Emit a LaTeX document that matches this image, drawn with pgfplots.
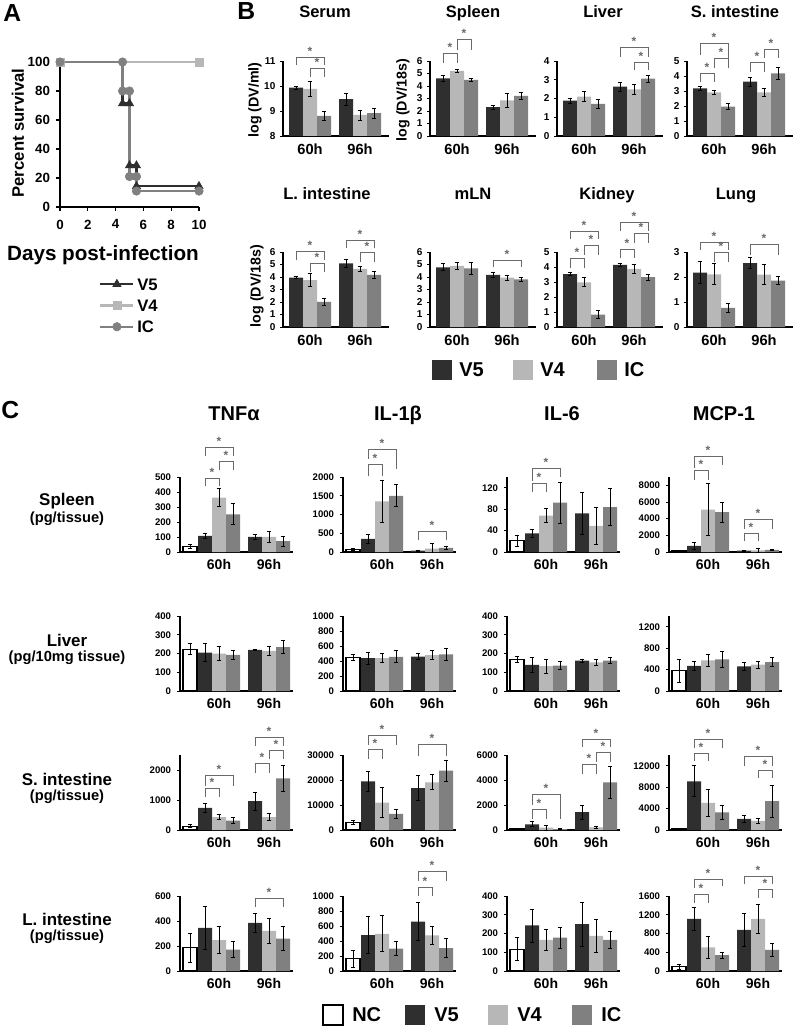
\documentclass[border=0pt]{standalone}
\usepackage{pgfplots}
\pgfplotsset{compat=1.18}
\usepackage{fontspec}
\setmainfont{Liberation Sans}
\newcommand{\fs}[1]{\fontsize{#1}{#1}\selectfont\bfseries}
\def\u{0.75pt}
\definecolor{cVfive}{HTML}{2F2F2F}
\definecolor{cVfour}{HTML}{B7B7B7}
\definecolor{cIC}{HTML}{808080}
\definecolor{cBrk}{HTML}{6A6A6A}
\pgfplotsset{
  errb/.style={error bars/.cd, y dir=both, y explicit,
     error bar style={black, line width=0.6pt},
     error mark options={black, line width=0.6pt, mark size=1.8pt, rotate=90}},
  bv5/.style={ybar, bar width=14, bar shift=0pt, fill=cVfive, draw=none, errb},
  bv4/.style={ybar, bar width=14, bar shift=0pt, fill=cVfour, draw=none, errb},
  bic/.style={ybar, bar width=14, bar shift=0pt, fill=cIC, draw=none, errb},
  bnc/.style={ybar, bar width=14, bar shift=0pt, fill=white, draw=black, line width=0.8pt, errb},
  common/.style={scale only axis, anchor=south west, axis lines*=left,
     axis line style={-, black, line width=0.8pt},
     tick align=outside, major tick length=2.2pt,
     tick style={black, line width=0.6pt}, major x tick style={draw=none},
     /pgf/number format/assume math mode=true,
     /pgf/number format/1000 sep={}, scaled y ticks=false,
     clip mode=individual, enlargelimits=false},
  bB/.style={common, width=79.5pt, height=56.25pt, xmin=0, xmax=106,
     xtick={27,77}, xticklabels={60h,96h},
     xticklabel style={font=\fs{11}},
     yticklabel style={font=\fs{7.5}}},
  cC/.style={common, width=84.75pt, height=56.25pt, xmin=0, xmax=113,
     xtick={39,89}, xticklabels={60h,96h},
     xticklabel style={font=\fs{10.5}},
     yticklabel style={font=\fs{7.2}, xshift=-1pt}},
}
\newcommand{\brk}[5]{%
  \draw[cBrk, line width=0.7pt]
   ([yshift=#4*\u]axis cs:#1,\ym) -- ([yshift=#3*\u]axis cs:#1,\ym)
   -- node[above, inner sep=0.6pt, font=\fs{9}, text=cBrk]{*} ([yshift=#3*\u]axis cs:#2,\ym)
   -- ([yshift=#5*\u]axis cs:#2,\ym);}
\begin{document}
\begin{tikzpicture}
\useasboundingbox (0,0) rectangle (595.5pt,-770.25pt);
% ---------------- texts ----------------
\begin{scope}[x=\u,y=-\u]
\node[anchor=base west, inner sep=0pt, font=\fs{18.5}] at (3,21.5) {A};
\node[anchor=base west, inner sep=0pt, font=\fs{18.5}] at (237,20) {B};
\node[anchor=base west, inner sep=0pt, font=\fs{18.5}] at (1,418) {C};
\node[rotate=90, font=\fs{12.5}] at (18,133) {Percent survival};
\node[anchor=base, font=\fs{15.5}] at (103,260) {Days post-infection};
% B titles
\foreach \t/\x in {Serum/325, Spleen/473, Liver/603, S. intestine/735}{\node[anchor=base, font=\fs{12.4}] at (\x,18) {\t};}
\foreach \t/\x in {L. intestine/327, mLN/473, Kidney/607, Lung/736}{\node[anchor=base, font=\fs{12.4}] at (\x,199) {\t};}
\node[rotate=90, font=\fs{10.7}] at (255,100) {log (DV/ml)};
\node[rotate=90, font=\fs{10.7}] at (403,100) {log (DV/18s)};
\node[rotate=90, font=\fs{10.7}] at (257,286) {log (DV/18s)};
% B legend
\fill[cVfive] (432,360) rectangle (452,380);
\fill[cVfour] (513,360) rectangle (533,380);
\fill[cIC] (597,360) rectangle (617,380);
\node[anchor=west, inner sep=0pt, font=\fs{15}] at (459,370) {V5};
\node[anchor=west, inner sep=0pt, font=\fs{15}] at (540,370) {V4};
\node[anchor=west, inner sep=0pt, font=\fs{15}] at (624,370) {IC};
% C titles
\node[anchor=base, font=\fs{15}] at (234,420) {TNFα};
\node[anchor=base, font=\fs{15}] at (398,420) {IL-1β};
\node[anchor=base, font=\fs{15}] at (562,420) {IL-6};
\node[anchor=base, font=\fs{15}] at (724,420) {MCP-1};
% C row labels
\node[anchor=base, font=\fs{12.7}] at (67,505.7) {Spleen};
\node[anchor=base, font=\fs{11}] at (67,522.7) {(pg/tissue)};
\node[anchor=base, font=\fs{12.7}] at (67,646) {Liver};
\node[anchor=base, font=\fs{11}] at (67,661) {(pg/10mg tissue)};
\node[anchor=base, font=\fs{12.7}] at (67,785) {S. intestine};
\node[anchor=base, font=\fs{11}] at (67,800) {(pg/tissue)};
\node[anchor=base, font=\fs{12.7}] at (67,925) {L. intestine};
\node[anchor=base, font=\fs{11}] at (67,940) {(pg/tissue)};
% C legend
\draw[black, line width=1pt, fill=white] (323,1005) rectangle (343,1025);
\fill[cVfive] (405,1005) rectangle (425,1025);
\fill[cVfour] (488,1005) rectangle (508,1025);
\fill[cIC] (572,1005) rectangle (592,1025);
\node[anchor=west, inner sep=0pt, font=\fs{15}] at (352,1015) {NC};
\node[anchor=west, inner sep=0pt, font=\fs{15}] at (434,1015) {V5};
\node[anchor=west, inner sep=0pt, font=\fs{15}] at (517,1015) {V4};
\node[anchor=west, inner sep=0pt, font=\fs{15}] at (601,1015) {IC};
\end{scope}
% ---------------- Panel A ----------------
\begin{axis}[scale only axis, anchor=south west, at={({60*\u},{-207*\u})},
  width=104.25pt, height=108.75pt, xmin=0, xmax=10, ymin=0, ymax=100,
  axis lines*=left, axis line style={-, black, line width=0.9pt},
  xtick={0,2,4,6,8,10}, ytick={0,20,40,60,80,100},
  tick align=outside, major tick length=3pt, tick style={black, line width=0.8pt},
  ticklabel style={font=\fs{10}},
  xticklabel style={yshift=-3pt}, yticklabel style={xshift=-1pt},
  /pgf/number format/assume math mode=true,
  clip=false,
  legend style={at={(0.28,-0.47)}, anchor=north west, draw=none, fill=none,
     font=\fs{12.5}, inner sep=0pt, row sep=3pt,
     nodes={inner sep=2pt, text height=9pt, text depth=0pt}},
  legend cell align=left,
  legend image code/.code={\draw[#1, mark indices={2}] plot coordinates {(0pt,0pt) (12.4pt,0pt) (24.8pt,0pt)};},
]
\addplot[cVfive, line width=1.8pt, mark=triangle*, mark size=3.6pt, mark options={solid, line width=0.4pt}, mark indices={3,4,5,6,7,8}] coordinates {(0,100) (4.5,100) (4.5,71.4) (5,71.4) (5,28.6) (5.5,28.6) (5.5,14.3) (10,14.3)};
\addlegendentry{V5}
\addplot[cVfour, line width=1.8pt, mark=square*, mark size=3pt, mark options={solid, line width=0.4pt}] coordinates {(0,100) (10,100)};
\addlegendentry{V4}
\addplot[cIC, line width=1.8pt, mark=*, mark size=3.2pt, mark options={solid, line width=0.4pt}] coordinates {(0,100) (4.5,100) (4.5,80) (5,80) (5,21) (5.5,21) (5.5,11) (10,11)};
\addlegendentry{IC}
\end{axis}
% ---------------- Panel B row 1 ----------------
\def\ym{11}
\begin{axis}[bB, at={({283*\u},{-136*\u})}, ymin=8, ymax=11, ytick={8,9,10,11}]
\addplot[bv5] coordinates {(13,9.93) +- (0,0.05) (63,9.47) +- (0,0.25)};
\addplot[bv4] coordinates {(27,9.88) +- (0,0.3) (77,8.84) +- (0,0.2)};
\addplot[bic] coordinates {(41,8.80) +- (0,0.18) (91,8.91) +- (0,0.2)};
\brk{13}{41}{4}{-4}{-4}
\brk{27}{41}{-7}{-16}{-16}
\end{axis}
\def\ym{6}
\begin{axis}[bB, at={({430*\u},{-136*\u})}, ymin=0, ymax=6, ytick={0,1,...,6}]
\addplot[bv5] coordinates {(13,4.6) +- (0,0.25) (63,2.3) +- (0,0.15)};
\addplot[bv4] coordinates {(27,5.2) +- (0,0.15) (77,2.85) +- (0,0.55)};
\addplot[bic] coordinates {(41,4.48) +- (0,0.1) (91,3.2) +- (0,0.3)};
\brk{13}{27}{8}{-2}{-2}
\brk{27}{41}{22}{11}{11}
\end{axis}
\def\ym{4}
\begin{axis}[bB, at={({557*\u},{-136*\u})}, ymin=0, ymax=4, ytick={0,1,...,4}]
\addplot[bv5] coordinates {(13,1.88) +- (0,0.13) (63,2.63) +- (0,0.25)};
\addplot[bv4] coordinates {(27,2.1) +- (0,0.28) (77,2.48) +- (0,0.25)};
\addplot[bic] coordinates {(41,1.71) +- (0,0.22) (91,3.06) +- (0,0.18)};
\brk{63}{91}{14}{4}{4}
\brk{77}{91}{-1}{-9}{-9}
\end{axis}
\def\ym{5}
\begin{axis}[bB, at={({687*\u},{-136*\u})}, ymin=0, ymax=5, ytick={0,1,...,5}]
\addplot[bv5] coordinates {(13,3.18) +- (0,0.15) (63,3.62) +- (0,0.3)};
\addplot[bv4] coordinates {(27,2.91) +- (0,0.15) (77,2.91) +- (0,0.28)};
\addplot[bic] coordinates {(41,1.96) +- (0,0.18) (91,4.18) +- (0,0.38)};
\brk{13}{41}{18}{6}{-7}
\brk{27}{41}{3}{-7}{-7}
\brk{13}{27}{-12}{-21}{-21}
\brk{63}{77}{-1}{-11}{-11}
\brk{77}{91}{12}{3}{3}
\end{axis}
% ---------------- Panel B row 2 ----------------
\def\ym{6}
\begin{axis}[bB, at={({283*\u},{-327*\u})}, ymin=0, ymax=6, ytick={0,1,...,6}]
\addplot[bv5] coordinates {(13,3.95) +- (0,0.1) (63,5.1) +- (0,0.3)};
\addplot[bv4] coordinates {(27,3.76) +- (0,0.5) (77,4.65) +- (0,0.18)};
\addplot[bic] coordinates {(41,2.02) +- (0,0.3) (91,4.17) +- (0,0.25)};
\brk{13}{41}{1}{-8}{-8}
\brk{27}{41}{-11}{-20}{-20}
\brk{63}{91}{12}{4}{4}
\brk{77}{91}{0}{-10}{-10}
\end{axis}
\def\ym{6}
\begin{axis}[bB, at={({430*\u},{-327*\u})}, ymin=0, ymax=6, ytick={0,1,...,6}]
\addplot[bv5] coordinates {(13,4.78) +- (0,0.28) (63,4.17) +- (0,0.17)};
\addplot[bv4] coordinates {(27,4.89) +- (0,0.3) (77,3.95) +- (0,0.2)};
\addplot[bic] coordinates {(41,4.7) +- (0,0.5) (91,3.82) +- (0,0.17)};
\brk{63}{91}{-8}{-15}{-15}
\end{axis}
\def\ym{5}
\begin{axis}[bB, at={({557*\u},{-327*\u})}, ymin=0, ymax=5, ytick={0,1,...,5}]
\addplot[bv5] coordinates {(13,3.52) +- (0,0.1) (63,4.15) +- (0,0.08)};
\addplot[bv4] coordinates {(27,2.98) +- (0,0.3) (77,3.88) +- (0,0.3)};
\addplot[bic] coordinates {(41,0.83) +- (0,0.28) (91,3.32) +- (0,0.2)};
\brk{13}{41}{21}{13}{13}
\brk{27}{41}{7}{-3}{-3}
\brk{13}{27}{-6}{-16}{-16}
\brk{63}{91}{30}{21}{21}
\brk{77}{91}{19}{9}{9}
\brk{63}{77}{3}{-6}{-6}
\end{axis}
\def\ym{3}
\begin{axis}[bB, at={({687*\u},{-327*\u})}, ymin=0, ymax=3, ytick={0,1,2,3}]
\addplot[bv5] coordinates {(13,2.18) +- (0,0.45) (63,2.56) +- (0,0.22)};
\addplot[bv4] coordinates {(27,2.11) +- (0,0.42) (77,2.1) +- (0,0.4)};
\addplot[bic] coordinates {(41,0.77) +- (0,0.18) (91,1.86) +- (0,0.16)};
\brk{13}{41}{10}{2}{2}
\brk{27}{41}{0}{-10}{-10}
\brk{63}{91}{8}{-3}{-3}
\end{axis}
% ---------------- Panel C row 1: Spleen ----------------
\def\ym{500}
\begin{axis}[cC, at={({180*\u},{-552*\u})}, ymin=0, ymax=500, ytick={0,100,...,500}]
\addplot[bnc] coordinates {(10,35) +- (0,13)};
\addplot[bv5] coordinates {(25,108) +- (0,15) (75,101) +- (0,15)};
\addplot[bv4] coordinates {(39,363) +- (0,58) (89,101) +- (0,35)};
\addplot[bic] coordinates {(53,251) +- (0,70) (103,72) +- (0,32)};
\brk{25}{39}{-1}{-9}{-9}
\brk{39}{53}{16}{7}{7}
\brk{25}{53}{30}{21}{21}
\end{axis}
\def\ym{2000}
\begin{axis}[cC, at={({343*\u},{-552*\u})}, ymin=0, ymax=2000, ytick={0,500,...,2000}]
\addplot[bnc] coordinates {(10,72) +- (0,20)};
\addplot[bv5] coordinates {(25,350) +- (0,130) (75,40) +- (0,15)};
\addplot[bv4] coordinates {(39,1350) +- (0,560) (89,90) +- (0,150)};
\addplot[bic] coordinates {(53,1500) +- (0,290) (103,110) +- (0,45)};
\brk{25}{53}{28}{18}{8}
\brk{25}{39}{13}{1}{1}
\brk{75}{103}{-54}{-63}{-63}
\end{axis}
\def\ym{140}
\begin{axis}[cC, at={({507*\u},{-552*\u})}, ymin=0, ymax=140, ytick={0,40,80,120}]
\addplot[bnc] coordinates {(10,21) +- (0,10)};
\addplot[bv5] coordinates {(25,35) +- (0,8) (75,72) +- (0,40)};
\addplot[bv4] coordinates {(39,68) +- (0,13) (89,49) +- (0,35)};
\addplot[bic] coordinates {(53,92) +- (0,38) (103,84) +- (0,34)};
\brk{25}{39}{-6}{-15}{-15}
\brk{25}{53}{9}{-4}{0}
\end{axis}
\def\ym{9000}
\begin{axis}[cC, at={({669*\u},{-552*\u})}, ymin=0, ymax=9000, ytick={0,2000,...,8000}]
\addplot[bnc] coordinates {(10,180) +- (0,40)};
\addplot[bv5] coordinates {(25,750) +- (0,400) (75,180) +- (0,50)};
\addplot[bv4] coordinates {(39,5080) +- (0,3100) (89,200) +- (0,250)};
\addplot[bic] coordinates {(53,4800) +- (0,1200) (103,250) +- (0,80)};
\brk{25}{39}{7}{-3}{-3}
\brk{25}{53}{21}{9}{12}
\brk{75}{89}{-56}{-64}{-64}
\brk{75}{103}{-42}{-52}{-52}
\end{axis}
% ---------------- Panel C row 2: Liver ----------------
\begin{axis}[cC, at={({180*\u},{-691*\u})}, ymin=0, ymax=400, ytick={0,100,...,400}]
\addplot[bnc] coordinates {(10,223) +- (0,30)};
\addplot[bv5] coordinates {(25,205) +- (0,48) (75,220) +- (0,4)};
\addplot[bv4] coordinates {(39,200) +- (0,38) (89,214) +- (0,22)};
\addplot[bic] coordinates {(53,193) +- (0,24) (103,234) +- (0,36)};
\end{axis}
\begin{axis}[cC, at={({343*\u},{-691*\u})}, ymin=0, ymax=1000, ytick={0,200,...,1000}]
\addplot[bnc] coordinates {(10,445) +- (0,40)};
\addplot[bv5] coordinates {(25,440) +- (0,80) (75,460) +- (0,45)};
\addplot[bv4] coordinates {(39,440) +- (0,65) (89,480) +- (0,55)};
\addplot[bic] coordinates {(53,455) +- (0,80) (103,490) +- (0,80)};
\end{axis}
\begin{axis}[cC, at={({507*\u},{-691*\u})}, ymin=0, ymax=400, ytick={0,100,...,400}]
\addplot[bnc] coordinates {(10,169) +- (0,15)};
\addplot[bv5] coordinates {(25,139) +- (0,42) (75,162) +- (0,9)};
\addplot[bv4] coordinates {(39,133) +- (0,38) (89,153) +- (0,15)};
\addplot[bic] coordinates {(53,135) +- (0,22) (103,162) +- (0,17)};
\end{axis}
\begin{axis}[cC, at={({669*\u},{-691*\u})}, ymin=0, ymax=1400, ytick={0,400,800,1200}]
\addplot[bnc] coordinates {(10,375) +- (0,210)};
\addplot[bv5] coordinates {(25,467) +- (0,80) (75,461) +- (0,70)};
\addplot[bv4] coordinates {(39,572) +- (0,110) (89,492) +- (0,65)};
\addplot[bic] coordinates {(53,590) +- (0,155) (103,541) +- (0,80)};
\end{axis}
% ---------------- Panel C row 3: S. intestine ----------------
\def\ym{2500}
\begin{axis}[cC, at={({180*\u},{-830*\u})}, ymin=0, ymax=2500, ytick={0,1000,2000}]
\addplot[bnc] coordinates {(10,130) +- (0,50)};
\addplot[bv5] coordinates {(25,734) +- (0,140) (75,960) +- (0,310)};
\addplot[bv4] coordinates {(39,430) +- (0,90) (89,430) +- (0,110)};
\addplot[bic] coordinates {(53,316) +- (0,100) (103,1718) +- (0,445)};
\brk{25}{39}{-33}{-42}{-42}
\brk{25}{53}{-20}{-31}{-31}
\brk{75}{89}{-8}{-18}{-18}
\brk{89}{103}{5}{-4}{-4}
\brk{75}{103}{18}{9}{9}
\end{axis}
\def\ym{30000}
\begin{axis}[cC, at={({343*\u},{-830*\u})}, ymin=0, ymax=30000, ytick={0,10000,20000,30000}]
\addplot[bnc] coordinates {(10,3100) +- (0,700)};
\addplot[bv5] coordinates {(25,19500) +- (0,3900) (75,16800) +- (0,5000)};
\addplot[bv4] coordinates {(39,11000) +- (0,6000) (89,19100) +- (0,3000)};
\addplot[bic] coordinates {(53,6450) +- (0,1800) (103,23800) +- (0,4200)};
\brk{25}{53}{20}{10}{10}
\brk{25}{39}{6}{-4}{-4}
\brk{75}{103}{11}{-1}{-1}
\end{axis}
\def\ym{6000}
\begin{axis}[cC, at={({507*\u},{-830*\u})}, ymin=0, ymax=6000, ytick={0,2000,4000,6000}]
\addplot[bnc] coordinates {(10,80) +- (0,20)};
\addplot[bv5] coordinates {(25,460) +- (0,200) (75,1430) +- (0,550)};
\addplot[bv4] coordinates {(39,190) +- (0,200) (89,215) +- (0,100)};
\addplot[bic] coordinates {(53,80) +- (0,70) (103,3820) +- (0,1280)};
\brk{25}{39}{-54}{-64}{-64}
\brk{25}{53}{-39}{-50}{-64}
\brk{75}{89}{-9}{-19}{-19}
\brk{89}{103}{3}{-7}{-7}
\brk{75}{103}{16}{8}{8}
\end{axis}
\def\ym{14000}
\begin{axis}[cC, at={({669*\u},{-830*\u})}, ymin=0, ymax=14000, ytick={0,4000,8000,12000}]
\addplot[bnc] coordinates {(10,200) +- (0,50)};
\addplot[bv5] coordinates {(25,9100) +- (0,2900) (75,2090) +- (0,700)};
\addplot[bv4] coordinates {(39,5060) +- (0,2600) (89,1710) +- (0,550)};
\addplot[bic] coordinates {(53,3290) +- (0,1250) (103,5380) +- (0,3000)};
\brk{25}{39}{2}{-6}{-6}
\brk{25}{53}{16}{7}{7}
\brk{89}{103}{-15}{-23}{-23}
\brk{75}{103}{-1}{-11}{-11}
\end{axis}
% ---------------- Panel C row 4: L. intestine ----------------
\def\ym{600}
\begin{axis}[cC, at={({180*\u},{-971*\u})}, ymin=0, ymax=600, ytick={0,200,400,600}]
\addplot[bnc] coordinates {(10,185) +- (0,115)};
\addplot[bv5] coordinates {(25,345) +- (0,170) (75,385) +- (0,75)};
\addplot[bv4] coordinates {(39,248) +- (0,105) (89,322) +- (0,100)};
\addplot[bic] coordinates {(53,172) +- (0,65) (103,260) +- (0,95)};
\brk{75}{103}{-2}{-11}{-11}
\end{axis}
\def\ym{1000}
\begin{axis}[cC, at={({343*\u},{-971*\u})}, ymin=0, ymax=1000, ytick={0,200,...,1000}]
\addplot[bnc] coordinates {(10,165) +- (0,115)};
\addplot[bv5] coordinates {(25,480) +- (0,245) (75,660) +- (0,250)};
\addplot[bv4] coordinates {(39,495) +- (0,240) (89,475) +- (0,120)};
\addplot[bic] coordinates {(53,300) +- (0,95) (103,305) +- (0,130)};
\brk{75}{89}{9}{0}{0}
\brk{75}{103}{25}{15}{15}
\end{axis}
\begin{axis}[cC, at={({507*\u},{-971*\u})}, ymin=0, ymax=400, ytick={0,100,...,400}]
\addplot[bnc] coordinates {(10,117) +- (0,60)};
\addplot[bv5] coordinates {(25,243) +- (0,88) (75,250) +- (0,118)};
\addplot[bv4] coordinates {(39,166) +- (0,58) (89,187) +- (0,90)};
\addplot[bic] coordinates {(53,178) +- (0,55) (103,166) +- (0,45)};
\end{axis}
\def\ym{1600}
\begin{axis}[cC, at={({669*\u},{-971*\u})}, ymin=0, ymax=1600, ytick={0,400,...,1600}]
\addplot[bnc] coordinates {(10,90) +- (0,50)};
\addplot[bv5] coordinates {(25,1110) +- (0,240) (75,880) +- (0,345)};
\addplot[bv4] coordinates {(39,504) +- (0,245) (89,1110) +- (0,315)};
\addplot[bic] coordinates {(53,338) +- (0,65) (103,450) +- (0,135)};
\brk{25}{39}{2}{-7}{-7}
\brk{25}{53}{17}{8}{10}
\brk{89}{103}{7}{-2}{-2}
\brk{75}{103}{20}{12}{12}
\end{axis}
\end{tikzpicture}
\end{document}
